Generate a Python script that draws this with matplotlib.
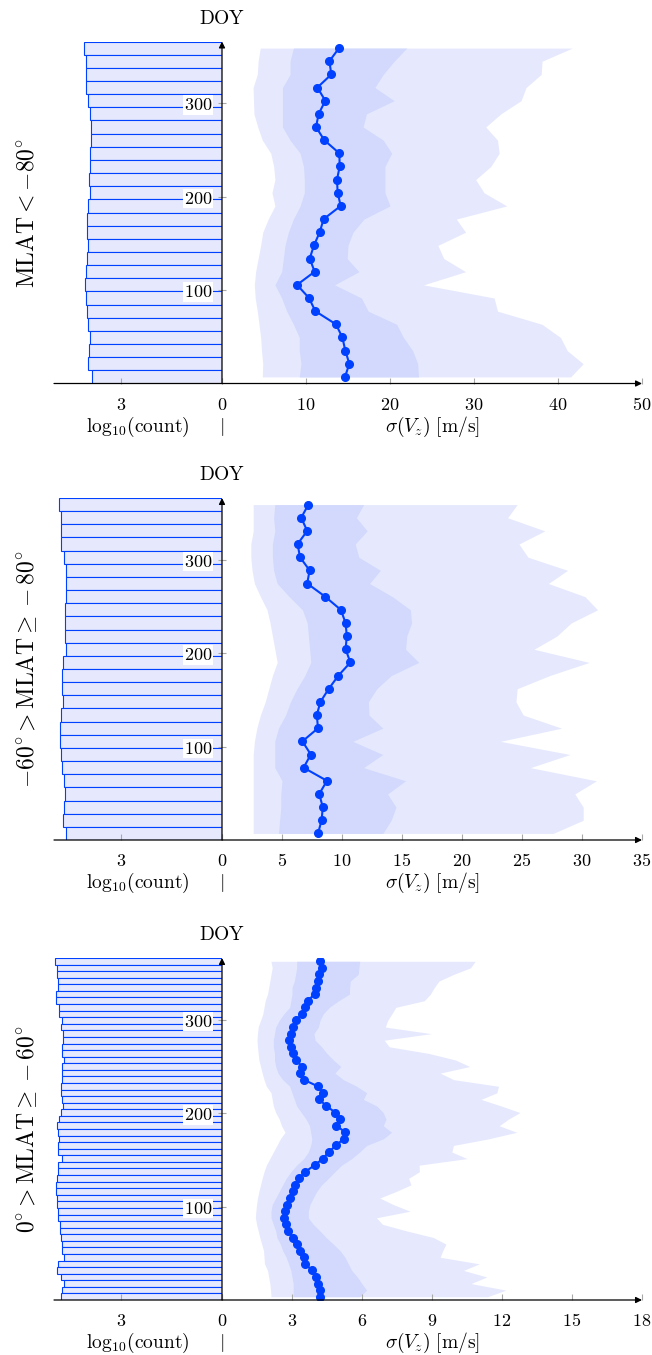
import numpy as np
import matplotlib
matplotlib.use("Agg")
import matplotlib.pyplot as plt

plt.rcParams["mathtext.fontset"] = "cm"
plt.rcParams["font.family"] = ["DejaVu Serif"]

# all series listed from the top bin (late DOY) down to the first bin
# --- MLAT < -80
hist1 = [4.10, 4.06, 4.06, 4.04, 3.98, 3.92, 3.90, 3.90, 3.93, 3.93, 3.95, 3.92, 3.98,
         4.03, 4.01, 3.98, 4.03, 4.06, 4.08, 4.06, 4.03, 3.98, 3.93, 3.95, 4.00, 3.88]
med1 = [13.93, 12.78, 13.02, 11.35, 12.30, 11.51, 11.19, 12.18, 13.97, 14.01, 13.69, 13.77, 14.13,
        12.10, 11.63, 10.95, 10.44, 11.03, 8.93, 10.36, 11.11, 13.57, 14.33, 14.68, 15.16, 14.64]
in_lo1 = [8.5, 8.1, 8.1, 7.2, 7.2, 7.2, 7.2, 8.1, 9.3, 9.7, 9.8, 9.8, 9.3,
          8.5, 7.9, 7.5, 7.3, 7.1, 6.3, 7.1, 7.7, 8.5, 9.2, 9.2, 9.4, 9.2]
in_hi1 = [22.0, 20.5, 19.2, 18.2, 20.5, 17.2, 16.8, 19.2, 20.2, 19.4, 19.4, 19.4, 20.0,
          16.9, 15.6, 15.0, 14.9, 16.3, 13.4, 16.6, 17.4, 20.8, 21.6, 22.7, 23.3, 23.4]
out_lo1 = [4.55, 4.3, 4.2, 3.7, 3.75, 3.8, 4.25, 4.8, 5.8, 6.15, 6.3, 5.95, 6.3,
           5.5, 4.85, 4.6, 4.3, 4.0, 3.85, 3.95, 4.2, 4.4, 4.6, 4.7, 4.85, 4.8]
out_hi1 = [41.7, 38.1, 38.0, 36.2, 35.6, 33.2, 31.4, 32.8, 33.0, 32.0, 30.2, 31.2, 33.9,
           27.9, 29.0, 25.7, 26.4, 29.0, 24.0, 32.4, 32.8, 38.1, 40.3, 41.1, 43.0, 41.5]

# --- -60 > MLAT >= -80
hist2 = [4.84, 4.79, 4.79, 4.78, 4.71, 4.65, 4.63, 4.63, 4.66, 4.67, 4.67, 4.63, 4.72,
         4.77, 4.75, 4.73, 4.78, 4.81, 4.82, 4.79, 4.77, 4.71, 4.67, 4.69, 4.73, 4.64]
med2 = [7.2, 6.6, 7.1, 6.3, 6.5, 7.3, 7.1, 8.6, 9.9, 10.3, 10.4, 10.3, 10.7,
        9.7, 8.9, 8.2, 7.9, 8.0, 6.7, 7.4, 6.8, 8.75, 8.1, 8.4, 8.3, 8.0]
in_lo2 = [4.4, 4.3, 4.4, 4.2, 4.2, 4.3, 4.6, 5.6, 6.7, 7.1, 7.2, 7.3, 7.4,
          6.9, 6.25, 5.7, 5.3, 4.7, 4.4, 4.4, 4.4, 5.0, 4.9, 4.9, 4.8, 4.7]
in_hi2 = [11.8, 11.2, 12.1, 11.1, 11.4, 13.2, 12.3, 14.2, 15.7, 15.8, 15.4, 15.3, 16.4,
          14.1, 12.9, 12.2, 12.25, 13.4, 10.9, 13.4, 11.8, 15.3, 13.8, 14.5, 14.1, 13.4]
out_lo2 = [2.6, 2.6, 2.6, 2.4, 2.4, 2.5, 2.7, 3.2, 3.75, 4.0, 4.2, 4.4, 4.6,
           4.2, 3.9, 3.6, 3.2, 2.9, 2.7, 2.6, 2.6, 2.6, 2.6, 2.6, 2.6, 2.6]
out_hi2 = [24.6, 23.8, 26.9, 24.75, 25.5, 28.8, 27.2, 30.25, 31.3, 29.1, 27.9, 26.0, 30.6,
           27.3, 24.6, 24.5, 25.1, 28.3, 23.2, 29.0, 25.7, 31.2, 29.4, 30.1, 30.1, 27.6]

# --- 0 > MLAT >= -60 (weekly bins)
hist3 = [4.97, 4.91, 4.91, 4.87, 4.87, 4.93, 4.93, 4.85, 4.85, 4.75, 4.79, 4.73, 4.73,
         4.75, 4.77, 4.71, 4.76, 4.77, 4.76, 4.79, 4.79, 4.77, 4.73, 4.78, 4.85, 4.90,
         4.87, 4.85, 4.87, 4.89, 4.75, 4.87, 4.88, 4.91, 4.93, 4.93, 4.91, 4.91, 4.89,
         4.87, 4.83, 4.81, 4.79, 4.77, 4.75, 4.70, 4.87, 4.91, 4.79, 4.71, 4.77, 4.79]
med3 = [4.21, 4.27, 4.16, 4.10, 4.03, 3.97, 3.67, 3.56, 3.43, 3.17, 3.03, 2.97, 2.89,
        2.97, 3.03, 3.17, 3.43, 3.36, 3.50, 4.10, 4.33, 4.17, 4.47, 4.86, 5.06, 4.90,
        5.29, 5.21, 4.89, 4.57, 4.33, 3.97, 3.57, 3.31, 3.14, 3.03, 2.93, 2.79, 2.69,
        2.64, 2.76, 2.83, 3.04, 3.21, 3.36, 3.50, 3.57, 3.86, 4.03, 4.11, 4.21, 4.19]
in_lo3 = [3.2, 3.2, 3.15, 3.1, 3.0, 3.0, 2.95, 2.9, 2.65, 2.45, 2.3, 2.25, 2.2,
          2.2, 2.25, 2.25, 2.3, 2.4, 2.6, 2.9, 3.0, 3.1, 3.2, 3.4, 3.6, 3.75,
          3.8, 3.85, 3.8, 3.7, 3.5, 3.2, 2.95, 2.75, 2.6, 2.45, 2.3, 2.15, 2.1,
          2.1, 2.2, 2.3, 2.35, 2.5, 2.6, 2.75, 2.85, 2.95, 3.0, 3.05, 3.05, 3.05]
in_hi3 = [5.9, 5.87, 5.84, 5.5, 5.47, 5.46, 5.0, 4.6, 4.34, 4.2, 4.13, 3.94, 3.99,
          4.27, 4.49, 4.77, 5.09, 4.84, 5.2, 5.77, 6.2, 6.06, 6.63, 6.91, 7.03, 6.91,
          7.27, 6.91, 6.2, 5.9, 5.56, 5.13, 4.84, 4.56, 4.27, 4.06, 3.91, 3.77, 3.7,
          3.7, 3.91, 4.2, 4.46, 4.77, 5.06, 5.27, 5.41, 5.56, 5.8, 5.99, 6.2, 5.9]
out_lo3 = [2.1, 2.15, 2.1, 2.05, 2.0, 1.95, 1.85, 1.8, 1.75, 1.65, 1.55, 1.52, 1.5,
           1.52, 1.55, 1.58, 1.65, 1.72, 1.8, 1.9, 2.1, 2.15, 2.2, 2.3, 2.45, 2.55,
           2.7, 2.5, 2.35, 2.2, 2.05, 1.9, 1.8, 1.72, 1.65, 1.58, 1.52, 1.48, 1.45,
           1.43, 1.48, 1.55, 1.62, 1.7, 1.78, 1.8, 1.82, 1.95, 2.0, 2.05, 2.08, 2.1]
out_hi3 = [10.85, 10.65, 9.92, 9.3, 9.1, 8.93, 8.67, 7.45, 7.28, 7.1, 7.0, 8.97, 6.95,
           7.17, 8.85, 10.0, 10.62, 9.35, 9.93, 11.85, 11.78, 11.1, 11.97, 12.77, 12.28, 11.88,
           12.63, 11.42, 9.92, 9.85, 10.5, 8.45, 8.46, 8.0, 8.1, 7.46, 6.76, 7.35, 8.06,
           6.62, 6.88, 7.92, 9.06, 9.6, 9.46, 9.35, 11.03, 10.35, 11.35, 10.67, 12.17, 11.38]

ylabels = [r"$\mathrm{MLAT} < -80^{\circ}$",
           r"$-60^{\circ} > \mathrm{MLAT} \geq -80^{\circ}$",
           r"$0^{\circ} > \mathrm{MLAT} \geq -60^{\circ}$"]
xmax = [50, 35, 18]
xstep = [10, 5, 3]

BLUE = "#0040ff"
LIGHT = "#e6e9fd"
MID = "#d2d9fc"
TICKC = "#a8a8a8"
W, H = 652, 1355

fig = plt.figure(figsize=(W / 100, H / 100), dpi=100)

panels = [(hist1, med1, in_lo1, in_hi1, out_lo1, out_hi1),
          (hist2, med2, in_lo2, in_hi2, out_lo2, out_hi2),
          (hist3, med3, in_lo3, in_hi3, out_lo3, out_hi3)]
bottoms = [383.5, 840, 1300]
ah = 342

for i, (hist, med, ilo, ihi, olo, ohi) in enumerate(panels):
    n = len(hist)
    edges = np.linspace(366, 0, n + 1)
    doy = (edges[:-1] + edges[1:]) / 2
    bw = 366 / n
    b = bottoms[i]

    axl = fig.add_axes([54 / W, 1 - b / H, 168 / W, ah / H])
    axr = fig.add_axes([222 / W, 1 - b / H, 420 / W, ah / H])
    for ax in (axl, axr):
        ax.set_facecolor("none")
        for s in ax.spines.values():
            s.set_visible(False)
        ax.set_ylim(0, 366)

    # histogram of counts
    axl.barh(doy, hist, height=bw, color=LIGHT, edgecolor=BLUE, linewidth=0.8)
    axl.set_xlim(5, 0)
    axl.set_yticks([])
    axl.set_xticks([3, 0], labels=["$3$", "$0$"])
    axl.tick_params(axis="x", direction="in", length=4, color=TICKC, pad=9, labelsize=13)

    # sigma bands and median line
    axr.fill_betweenx(doy, olo, ohi, color=LIGHT, lw=0)
    axr.fill_betweenx(doy, ilo, ihi, color=MID, lw=0)
    axr.plot(med, doy, color=BLUE, lw=1.5, marker="o", ms=5.5)
    axr.set_xlim(0, xmax[i])
    xt = list(range(0, xmax[i] + 1, xstep[i]))
    axr.set_xticks(xt, labels=[""] + [f"${t}$" for t in xt[1:]])
    axr.tick_params(axis="x", direction="in", length=4, color=TICKC, pad=9, labelsize=13)
    axr.set_yticks([100, 200, 300], labels=["$100$", "$200$", "$300$"])
    axr.tick_params(axis="y", direction="inout", length=6, color=TICKC, pad=4, labelsize=13)
    for lab in axr.get_yticklabels():
        lab.set_bbox(dict(facecolor="white", edgecolor="none", pad=0.5))

    arrow = dict(arrowstyle="-|>", color="k", lw=0.9, shrinkA=0, shrinkB=0, mutation_scale=9)
    axr.annotate("", xy=(1, 0), xytext=(-168 / 420, 0), xycoords="axes fraction",
                 textcoords="axes fraction", arrowprops=arrow, annotation_clip=False)
    axr.annotate("", xy=(0, 1), xytext=(0, 0), xycoords="axes fraction",
                 textcoords="axes fraction", arrowprops=arrow, annotation_clip=False)

    top = b - ah
    fig.text(222 / W, 1 - (top - 23) / H, r"$\mathrm{DOY}$", ha="center", va="center", fontsize=14)
    fig.text(138 / W, 1 - (b + 43) / H, r"$\mathrm{log}_{10}(\mathrm{count})$", ha="center", va="center", fontsize=14)
    fig.text(222 / W, 1 - (b + 43) / H, r"$|$", ha="center", va="center", fontsize=14)
    fig.text(432 / W, 1 - (b + 43) / H, r"$\sigma(V_z)\ [\mathrm{m/s}]$", ha="center", va="center", fontsize=14)
    fig.text(27 / W, 1 - (b - ah / 2) / H, ylabels[i], rotation=90, ha="center", va="center", fontsize=17)

fig.savefig("out.png", dpi=100)
